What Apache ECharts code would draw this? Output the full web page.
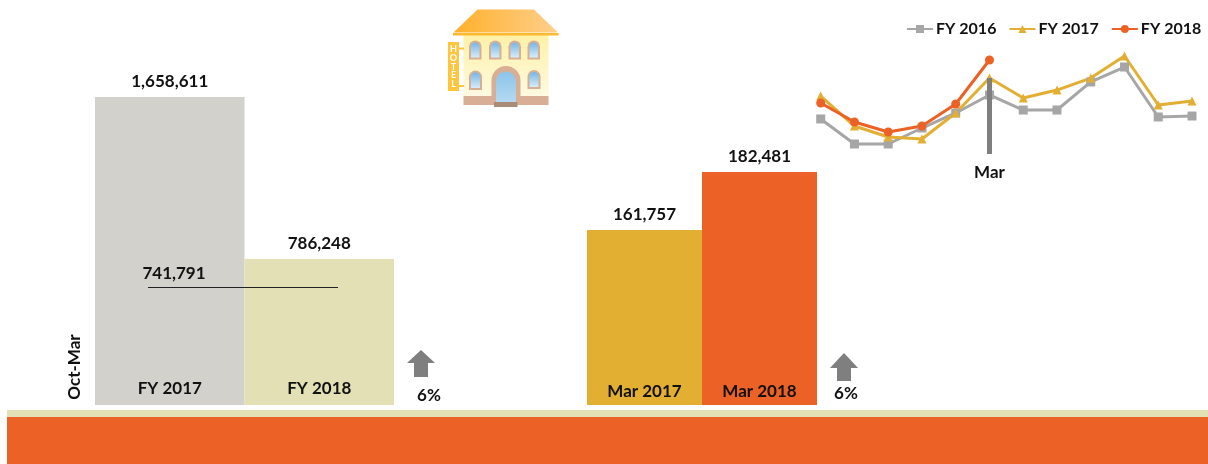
<!DOCTYPE html>
<html>
<head>
<meta charset="utf-8">
<title>Hotel</title>
<style>
  html, body { margin: 0; padding: 0; background: #fff; }
  #main { width: 1208px; height: 464px; }
</style>
</head>
<body>
<div id="main"></div>
<script src="https://cdn.jsdelivr.net/npm/echarts@6/dist/echarts.min.js"></script>
<script>
const totalCategories = ['FY 2017', 'FY 2018']
const totalValues = [1658611, 786248]
const priorTotal = 741791
const marchCategories = ['Mar 2017', 'Mar 2018']
const marchValues = [161757, 182481]
const changeTotal = '6%'
const changeMarch = '6%'

const months = ['Oct', 'Nov', 'Dec', 'Jan', 'Feb', 'Mar', 'Apr', 'May', 'Jun', 'Jul', 'Aug', 'Sep']
const fy2016 = [114600, 85800, 85800, 104200, 121500, 142200, 124900, 124900, 157200, 174400, 116900, 118000]
const fy2017 = [141000, 106500, 93800, 91500, 121500, 161757, 138700, 147900, 161700, 187100, 130700, 135300]
const fy2018 = [133000, 111100, 99600, 106500, 131800, 182481]

const FONT = 'Lato'
const TEXT = '#111'
const GREY = '#a6a6a6'
const GOLD = '#e3af32'
const ORANGE = '#ec6125'
const ARROW = '#7f7f7f'
const TAN = '#d8af94'

const fmt = n => n.toLocaleString('en-US')
const boldText = { color: TEXT, fontFamily: FONT, fontWeight: 'bold', fontSize: 17 }

function barSeries(axisIndex, values, colors) {
  return {
    type: 'bar',
    xAxisIndex: axisIndex,
    yAxisIndex: axisIndex,
    barWidth: '100%',
    silent: true,
    data: values.map((v, i) => ({ value: v, itemStyle: { color: colors[i] } })),
    label: {
      show: true,
      position: 'top',
      distance: 7,
      formatter: p => fmt(p.value),
      ...boldText
    }
  }
}

function barXAxis(gridIndex, data, margin) {
  return {
    type: 'category',
    gridIndex,
    data,
    z: 10,
    axisLine: { show: false },
    axisTick: { show: false },
    axisLabel: { inside: true, margin, ...boldText }
  }
}

function hiddenY(gridIndex, min, max) {
  return { type: 'value', gridIndex, min, max, show: false, splitLine: { show: false } }
}

function lineSeries(name, values, color, symbol, size) {
  return {
    name,
    type: 'line',
    xAxisIndex: 2,
    yAxisIndex: 2,
    data: values,
    symbol,
    symbolSize: size,
    lineStyle: { color, width: 3 },
    itemStyle: { color }
  }
}

function arrow(cx, top, shoulder, bottom) {
  return {
    type: 'polygon',
    shape: { points: [[cx, top], [cx + 14, shoulder], [cx + 7, shoulder], [cx + 7, bottom], [cx - 7, bottom], [cx - 7, shoulder], [cx - 14, shoulder]] },
    style: { fill: ARROW }
  }
}

function label(text, x, y, extra) {
  return {
    type: 'text',
    x, y,
    style: { text, fill: TEXT, font: 'bold 17px ' + FONT, align: 'center', verticalAlign: 'middle' },
    ...extra
  }
}

// arched hotel window, tan frame with blue glass
function hotelWindow(x, y, w, h) {
  return [
    { type: 'rect', shape: { x, y, width: w, height: h, r: [w / 2, w / 2, 0, 0] }, style: { fill: TAN } },
    {
      type: 'rect',
      shape: { x: x + 2, y: y + 2, width: w - 4, height: h - 4, r: [w / 2 - 2, w / 2 - 2, 0, 0] },
      style: { fill: new echarts.graphic.LinearGradient(0, 0, 0, 1, [{ offset: 0, color: '#74b6e6' }, { offset: 1, color: '#d6ecf8' }]) }
    }
  ]
}

function hotel() {
  const letters = ['H', 'O', 'T', 'E', 'L']
  return [
    { type: 'rect', shape: { x: 463.5, y: 35, width: 85, height: 70 }, style: { fill: new echarts.graphic.LinearGradient(0, 0, 0, 1, [{ offset: 0, color: '#fff1a6' }, { offset: 1, color: '#fffbea' }]) } },
    { type: 'rect', shape: { x: 463.5, y: 96, width: 85, height: 9 }, style: { fill: TAN } },
    { type: 'polygon', shape: { points: [[477.5, 9.5], [534, 9.5], [558, 32.5], [453.5, 32.5]] }, style: { fill: new echarts.graphic.LinearGradient(0, 0, 1, 0, [{ offset: 0, color: '#ffb02a' }, { offset: 1, color: '#ffcf8c' }]) } },
    { type: 'rect', shape: { x: 453, y: 33, width: 105.5, height: 2.5 }, style: { fill: '#ffb92e' } },
    ...hotelWindow(469, 40.5, 12.5, 19),
    ...hotelWindow(489, 40.5, 12.5, 19),
    ...hotelWindow(508.5, 40.5, 12.5, 19),
    ...hotelWindow(527.5, 40.5, 12.5, 19),
    ...hotelWindow(469, 70.5, 13, 19.5),
    ...hotelWindow(527.5, 70, 13, 19),
    { type: 'rect', shape: { x: 491.5, y: 66, width: 29, height: 36, r: [14.5, 14.5, 0, 0] }, style: { fill: TAN } },
    { type: 'rect', shape: { x: 496, y: 71.5, width: 20, height: 30.5, r: [10, 10, 0, 0] }, style: { fill: new echarts.graphic.LinearGradient(0, 0, 0, 1, [{ offset: 0, color: '#8cc4ea' }, { offset: 1, color: '#b4d9f2' }]) } },
    { type: 'rect', shape: { x: 494, y: 102, width: 23.5, height: 5 }, style: { fill: '#a98c78' } },
    { type: 'rect', shape: { x: 458, y: 47.5, width: 6, height: 2 }, style: { fill: '#ffc53d' } },
    { type: 'rect', shape: { x: 458, y: 85, width: 6, height: 2 }, style: { fill: '#ffc53d' } },
    { type: 'rect', shape: { x: 448, y: 42, width: 11, height: 49 }, style: { fill: '#ffc53d' } },
    ...letters.map((c, i) => ({
      type: 'text',
      x: 453.5,
      y: 49 + i * 8.8,
      style: { text: c, fill: '#fff', font: 'bold 9px ' + FONT, align: 'center', verticalAlign: 'middle' }
    }))
  ]
}

const option = {
  animation: false,
  backgroundColor: '#fff',
  textStyle: { fontFamily: FONT },
  legend: {
    left: 906,
    top: 21,
    itemWidth: 26,
    itemHeight: 10,
    itemGap: 12,
    padding: 0,
    textStyle: { ...boldText, fontSize: 16, padding: [0, 0, 0, -2] },
    data: ['FY 2016', 'FY 2017', 'FY 2018']
  },
  grid: [
    { left: 95, top: 97, width: 299, height: 308 },
    { left: 587, top: 172, width: 230, height: 233 },
    { left: 820.7, top: 40, width: 371.3, height: 120 }
  ],
  xAxis: [
    barXAxis(0, totalCategories, 8),
    barXAxis(1, marchCategories, 5),
    {
      type: 'category',
      gridIndex: 2,
      data: months,
      boundaryGap: false,
      axisLine: { show: false },
      axisTick: { show: false },
      axisLabel: {
        interval: 0,
        margin: 4,
        formatter: v => (v === 'Mar' ? v : ''),
        ...boldText
      }
    }
  ],
  yAxis: [
    hiddenY(0, 0, 1658611),
    // the reference's March bars sit on a cut-off baseline
    hiddenY(1, 99228, 182481),
    hiddenY(2, 67375, 205495)
  ],
  series: [
    barSeries(0, totalValues, ['#d2d1cc', '#e3e0b5']),
    barSeries(1, marchValues, [GOLD, ORANGE]),
    lineSeries('FY 2016', fy2016, GREY, 'rect', 9),
    {
      ...lineSeries('FY 2017', fy2017, GOLD, 'triangle', 9),
      markLine: {
        silent: true,
        symbol: 'none',
        label: { show: false },
        lineStyle: { color: ARROW, width: 5, type: 'solid' },
        data: [[{ coord: ['Mar', 161757] }, { coord: ['Mar', 74281] }]]
      }
    },
    lineSeries('FY 2018', fy2018, ORANGE, 'circle', 9)
  ],
  graphic: [
    { type: 'rect', shape: { x: 7, y: 410, width: 1201, height: 7 }, style: { fill: '#e3e0b5' } },
    { type: 'rect', shape: { x: 7, y: 417, width: 1201, height: 47 }, style: { fill: ORANGE } },
    // the bars draw later than the graphic layer, so these need their own z
    { type: 'line', z: 100, shape: { x1: 148, y1: 287.5, x2: 338, y2: 287.5 }, style: { stroke: '#222', lineWidth: 1 } },
    label(fmt(priorTotal), 174, 274, { z: 100 }),
    label('Oct-Mar', 75, 367, { rotation: Math.PI / 2 }),
    arrow(421, 350, 363, 377),
    arrow(844, 353, 368, 381),
    label(changeTotal, 429, 396),
    label(changeMarch, 846, 394),
    ...hotel()
  ]
}

const myChart = echarts.init(document.getElementById('main'))
myChart.setOption(option)
</script>
</body>
</html>
